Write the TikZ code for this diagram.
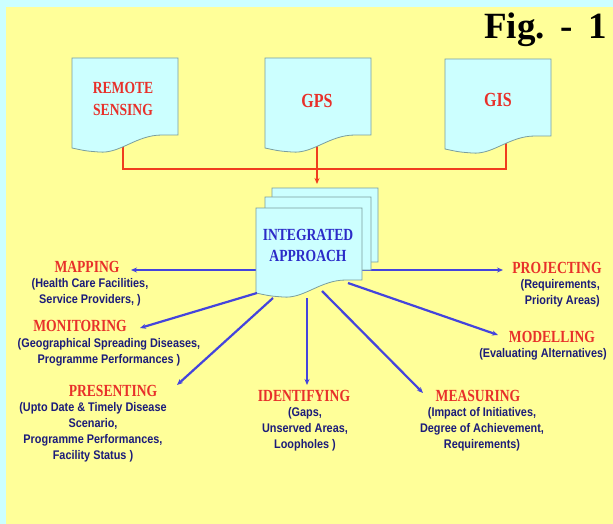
\documentclass[tikz,border=0pt]{standalone}
\usepackage{fontspec}
\usetikzlibrary{arrows.meta}
\newfontfamily\headf[FakeStretch=0.8]{Liberation Serif}
\newfontfamily\subf[FakeStretch=0.87]{Liberation Sans}
\newfontfamily\figf{Liberation Serif}
\definecolor{bgcyan}{HTML}{CCFFFF}
\definecolor{bgyellow}{HTML}{FFFF99}
\definecolor{docfill}{HTML}{CCFFFF}
\definecolor{docline}{HTML}{7A9E9E}
\definecolor{redtxt}{HTML}{E8302A}
\definecolor{redln}{HTML}{F03C1E}
\definecolor{bluetxt}{HTML}{2B2BC8}
\definecolor{subtxt}{HTML}{1C1C7A}
\definecolor{arrblue}{HTML}{4444DD}
\newcommand\docshp[3]{%
  \begin{scope}[shift={(#1,#2)}]
    \filldraw[docst] (0,0) -- (106,0) -- (106,#3) -- (90,#3)
      .. controls (64,#3) and (48,{#3+19}) .. (27,{#3+17})
      .. controls (14,{#3+16}) .. (0,{#3+13}) -- cycle;
  \end{scope}}
\begin{document}
\begin{tikzpicture}[x=1pt,y=-1pt,
  docst/.style={fill=docfill,draw=docline,line width=0.8pt},
  redl/.style={draw=redln,line width=2pt},
  bluearr/.style={draw=arrblue,line width=2.2pt,-{Stealth[length=6pt,width=5pt]}},
  head/.style={font=\headf\bfseries\fontsize{17}{18}\selectfont,text=redtxt,inner sep=0pt,anchor=center},
  doctxt/.style={font=\headf\bfseries\fontsize{17}{22}\selectfont,text=redtxt,inner sep=0pt,align=center},
  subt/.style={font=\subf\bfseries\fontsize{12.5}{16}\selectfont,text=subtxt,inner sep=0pt,align=center,anchor=north}]
\fill[bgcyan] (0,0) rectangle (613,524);
\fill[bgyellow] (6,7) rectangle (613,524);
\useasboundingbox (0,0) rectangle (613,524);

\node[font=\figf\bfseries\fontsize{37}{40}\selectfont,anchor=base east,inner sep=0pt] (fig) at (607,39) {Fig.\hspace{16pt}-\hspace{15pt}1};

% connector end points
\coordinate (rsb) at (123,140);
\coordinate (gpsb) at (317,140);
\coordinate (gisb) at (506,140);
\coordinate (junc) at (317,169);
\coordinate (iapt) at (317,184);

\draw[redl] (rsb) |- (junc);
\draw[redl] (gisb) |- (junc);
\draw[redl,-{Stealth[length=6pt,width=5pt]}] (gpsb) -- (iapt);

% top documents
\docshp{72}{58}{77}
\docshp{265}{58}{77}
\docshp{445}{59}{77}
\node[doctxt] (rs) at (123,99) {REMOTE\\SENSING};
\node[doctxt,font=\headf\bfseries\fontsize{20}{22}\selectfont] (gps) at (317,101) {GPS};
\node[doctxt,font=\headf\bfseries\fontsize{20}{22}\selectfont] (gis) at (498,100) {GIS};

% horizontal blue arrows (start hidden under sheets)
\coordinate (mapS) at (300,270);
\coordinate (projS) at (350,270);
\coordinate (mapE) at (131,270);
\coordinate (projE) at (503,270);
\draw[bluearr] (mapS) -- (mapE);
\draw[bluearr] (projS) -- (projE);

% stacked sheets
\docshp{272}{188}{74}
\docshp{265}{197}{73}
\docshp{256}{208}{72}
\node[doctxt,text=bluetxt,font=\headf\bfseries\fontsize{17}{21}\selectfont] (ia) at (308,245) {INTEGRATED\\APPROACH};

% diagonal arrows
\coordinate (monS) at (257,293);
\coordinate (monE) at (140,328);
\coordinate (preS) at (273,298);
\coordinate (preE) at (177,385);
\coordinate (ideS) at (307,298);
\coordinate (ideE) at (307,385);
\coordinate (meaS) at (322,291);
\coordinate (meaE) at (423,393);
\coordinate (modS) at (348,283);
\coordinate (modE) at (498,335);
\draw[bluearr] (monS) -- (monE);
\draw[bluearr] (preS) -- (preE);
\draw[bluearr] (ideS) -- (ideE);
\draw[bluearr] (meaS) -- (meaE);
\draw[bluearr] (modS) -- (modE);

% labels
\node[head] (maph) at (87,267) {MAPPING};
\node[subt] (maps) at (90,278) {(Health Care Facilities,\\Service Providers, )};
\node[head] (monh) at (80,326) {MONITORING};
\node[subt] (mons) at (109,338) {(Geographical Spreading Diseases,\\Programme Performances )};
\node[head] (preh) at (113,391) {PRESENTING};
\node[subt] (pres) at (93,402) {(Upto Date \& Timely Disease\\Scenario,\\Programme Performances,\\Facility Status )};
\node[head] (ideh) at (304,396) {IDENTIFYING};
\node[subt] (ides) at (305,407) {(Gaps,\\Unserved Areas,\\Loopholes )};
\node[head] (meah) at (478,396) {MEASURING};
\node[subt] (meas) at (482,407) {(Impact of Initiatives,\\Degree of Achievement,\\Requirements)};
\node[head] (proh) at (557,268) {PROJECTING};
\node[subt,align=right,anchor=north east] (pros) at (600,279) {(Requirements,\\Priority Areas)};
\node[head] (modh) at (552,337) {MODELLING};
\node[subt] (mods) at (543,348) {(Evaluating Alternatives)};
\end{tikzpicture}
\end{document}
